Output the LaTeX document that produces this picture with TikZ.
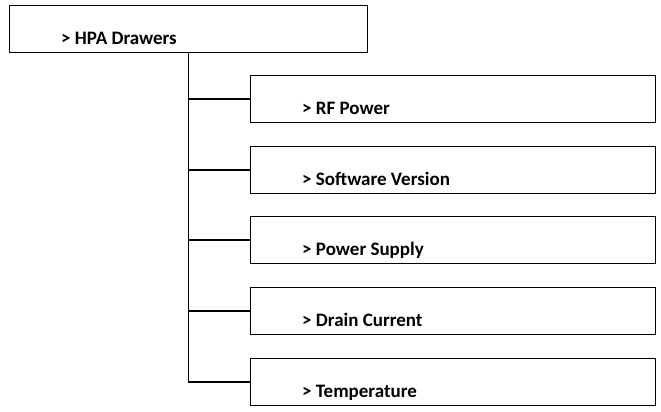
\documentclass[tikz,border=0pt]{standalone}
\usepackage{fontspec}
\setmainfont{Carlito}
\begin{document}
\begin{tikzpicture}[x=1pt,y=-1pt,
  box/.style={draw=black, line width=0.9pt, rectangle, minimum width=405pt, minimum height=47pt, inner sep=0pt, anchor=north west},
  topbox/.style={draw=black, line width=0.9pt, rectangle, minimum width=358pt, minimum height=47pt, inner sep=0pt, anchor=north west},
  lbl/.style={anchor=base west, inner sep=0pt, font=\bfseries\fontsize{19}{22}\selectfont},
  conn/.style={draw=black, line width=1.8pt}]
\useasboundingbox (0,0) rectangle (661,412);
\node[topbox] (top) at (9,5) {};
\node[lbl] (ttop) at ([xshift=52pt,yshift=8pt]top.south west) {> HPA Drawers};
\foreach \i/\y/\t in {1/75/{> RF Power},2/146/{> Software Version},3/216/{> Power Supply},4/287/{> Drain Current},5/358/{> Temperature}}{
  \node[box] (b\i) at (250,\y) {};
  \node[lbl] (t\i) at ([xshift=52pt,yshift=8pt]b\i.south west) {\t};
}
\foreach \i in {1,...,5}{
  \draw[conn] (top.south) |- (b\i.west);
}
\end{tikzpicture}
\end{document}
